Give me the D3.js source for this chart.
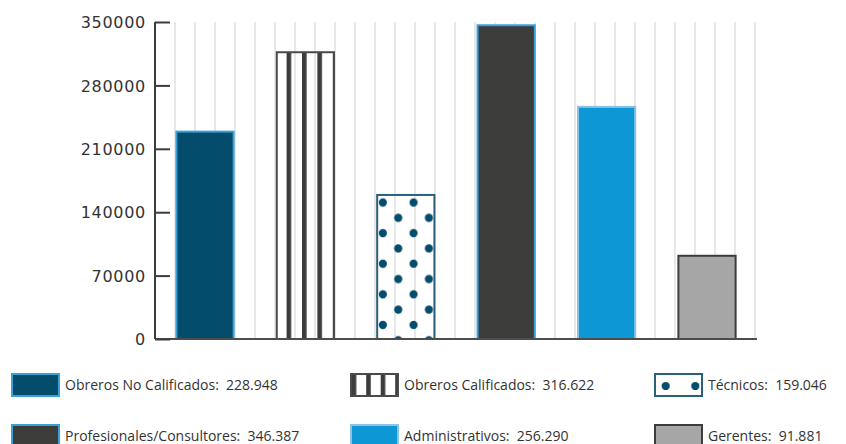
<!DOCTYPE html>
<html>
<head>
<meta charset="utf-8">
<script src="https://cdn.jsdelivr.net/npm/d3@7/dist/d3.min.js"></script>
<style>
  html, body { margin: 0; padding: 0; background: #ffffff; }
  svg { display: block; }
</style>
</head>
<body>
<svg id="chart" width="846" height="444"></svg>
<script>
// ---- data ----
const categories = ["Obreros No Calificados", "Obreros Calificados", "Técnicos",
                    "Profesionales/Consultores", "Administrativos", "Gerentes"];
const values = [228948, 316622, 159046, 346387, 256290, 91881];
const valueLabels = ["228.948", "316.622", "159.046", "346.387", "256.290", "91.881"];
const yTicks = [0, 70000, 140000, 210000, 280000, 350000];

// ---- styles ----
const fills = ["#034c6b", "url(#stripes)", "url(#dots)", "#3c3c3b", "#0e97d5", "#a6a6a7"];
const legendFills = ["#034c6b", "url(#stripesL)", "url(#dotsL)", "#3c3c3b", "#0e97d5", "#a6a6a7"];
const strokes = ["#3aa0d8", "#4a4a4a", "#2a6079", "#3aa0d8", "#8fc3e6", "#3c3c3b"];

const svg = d3.select("#chart");
const mLeft = 155, mRight = 757, mTop = 22, mBottom = 339;

const x = d3.scaleBand().domain(categories).range([mLeft, mRight])
  .paddingInner(0.43).paddingOuter(0.213);
const y = d3.scaleLinear().domain([0, 350000]).range([mBottom, mTop]);

// ---- patterns ----
const defs = svg.append("defs");
function stripes(id, x0, period) {
  const p = defs.append("pattern").attr("id", id).attr("patternUnits", "userSpaceOnUse")
    .attr("x", x0).attr("y", 0).attr("width", period).attr("height", 40);
  p.append("rect").attr("x", 0).attr("y", 0).attr("width", 4.6).attr("height", 40).attr("fill", "#3c3c3b");
}
function dots(id, x0, y0, w, h) {
  const p = defs.append("pattern").attr("id", id).attr("patternUnits", "userSpaceOnUse")
    .attr("x", x0).attr("y", y0).attr("width", w).attr("height", h);
  [[0, 0], [w, 0], [0, h], [w, h], [w / 2, h / 2]].forEach(d =>
    p.append("circle").attr("cx", d[0]).attr("cy", d[1]).attr("r", 4.1).attr("fill", "#034c6b"));
}
stripes("stripes", x(categories[1]) + 9.8, 15.4);
dots("dots", x(categories[2]) + 5.7, y(values[2]) + 7.6, 30.7, 30.6);
// legend patterns are in the legend item's local coordinates
stripes("stripesL", 15.2, 14.5);
dots("dotsL", 10.7, 12, 29.6, 30);

// ---- grid ----
const gridX = d3.range(mLeft + 20, mRight + 1, 20);
svg.append("g").selectAll("line").data(gridX).join("line")
  .attr("x1", d => d).attr("x2", d => d).attr("y1", mTop).attr("y2", mBottom)
  .attr("stroke", "#e1e1e1").attr("stroke-width", 1.5);

// ---- bars ----
svg.append("g").selectAll("rect").data(values).join("rect")
  .attr("x", (d, i) => x(categories[i]))
  .attr("y", d => y(d))
  .attr("width", x.bandwidth())
  .attr("height", d => y(0) - y(d))
  .attr("fill", (d, i) => fills[i])
  .attr("stroke", (d, i) => strokes[i])
  .attr("stroke-width", 2);

// ---- axes ----
svg.append("line").attr("x1", mLeft).attr("x2", mRight).attr("y1", mBottom).attr("y2", mBottom)
  .attr("stroke", "#4d4d4d").attr("stroke-width", 2);

const yAxis = svg.append("g").attr("transform", `translate(${mLeft},0)`)
  .call(d3.axisRight(y).tickValues(yTicks).tickSize(15).tickPadding(0).tickFormat(d3.format("d")));
yAxis.select(".domain").attr("stroke", "#3c3c3b").attr("stroke-width", 2)
  .attr("d", `M0,${mTop}V${mBottom}`);
yAxis.selectAll(".tick line").attr("stroke", "#3c3c3b").attr("stroke-width", 2);
yAxis.selectAll(".tick text")
  .attr("x", -9).attr("text-anchor", "end").attr("dy", "0.35em")
  .attr("fill", "#333333")
  .style("font-family", "'DejaVu Sans', sans-serif").style("font-size", "16px")
  .style("letter-spacing", "0.7px");

// ---- legend ----
const legCols = [12, 351, 655];
const legRows = [374, 425];
const leg = svg.append("g").selectAll("g").data(categories).join("g")
  .attr("transform", (d, i) => `translate(${legCols[i % 3]},${legRows[Math.floor(i / 3)]})`);
leg.append("rect").attr("x", 0).attr("y", 0).attr("width", 47).attr("height", 22)
  .attr("fill", (d, i) => legendFills[i]).attr("stroke", (d, i) => strokes[i]).attr("stroke-width", 2);
leg.append("text").attr("x", 53).attr("y", 12).attr("dy", "0.3em")
  .attr("fill", "#333333")
  .style("font-family", "'Open Sans', sans-serif").style("font-size", "14px")
  .style("white-space", "pre")
  .text((d, i) => `${d}:  ${valueLabels[i]}`);
</script>
</body>
</html>
